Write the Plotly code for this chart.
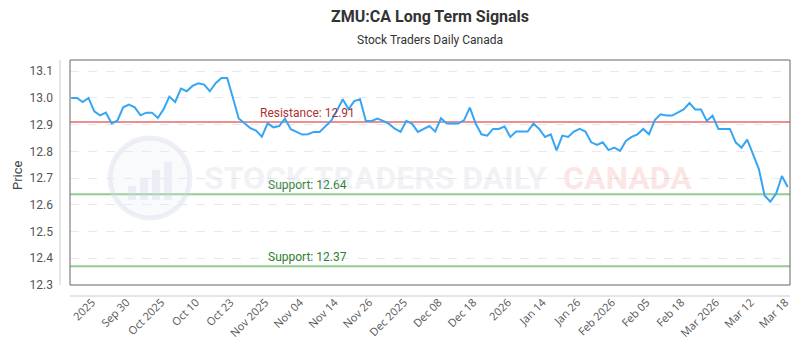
import plotly.graph_objects as go

title = "ZMU:CA Long Term Signals"
subtitle = "Stock Traders Daily Canada"

prices = [
    13.00, 13.00, 12.985, 13.00, 12.95, 12.935, 12.945, 12.905, 12.915, 12.965,
    12.975, 12.965, 12.935, 12.945, 12.945, 12.925, 12.958, 13.005, 12.985, 13.035,
    13.025, 13.045, 13.055, 13.05, 13.025, 13.055, 13.075, 13.075, 13.00, 12.923,
    12.905, 12.887, 12.878, 12.855, 12.905, 12.89, 12.895, 12.923, 12.883, 12.873,
    12.863, 12.864, 12.873, 12.873, 12.893, 12.915, 12.953, 12.995, 12.958, 12.988,
    12.995, 12.914, 12.914, 12.923, 12.914, 12.903, 12.885, 12.873, 12.914, 12.903,
    12.873, 12.883, 12.895, 12.874, 12.924, 12.904, 12.904, 12.904, 12.917, 12.964,
    12.904, 12.864, 12.859, 12.884, 12.884, 12.893, 12.854, 12.874, 12.874, 12.874,
    12.904, 12.884, 12.854, 12.864, 12.804, 12.859, 12.854, 12.874, 12.884, 12.874,
    12.834, 12.824, 12.834, 12.805, 12.814, 12.802, 12.839, 12.854, 12.864, 12.884,
    12.864, 12.917, 12.939, 12.934, 12.934, 12.947, 12.957, 12.981, 12.957, 12.957,
    12.914, 12.934, 12.884, 12.884, 12.884, 12.834, 12.814, 12.844, 12.793, 12.735,
    12.635, 12.612, 12.642, 12.708, 12.667,
]
x_index = list(range(len(prices)))

tick_labels = ["2025", "Sep 30", "Oct 2025", "Oct 10", "Oct 23", "Nov 2025", "Nov 04",
               "Nov 14", "Nov 26", "Dec 2025", "Dec 08", "Dec 18", "2026", "Jan 14",
               "Jan 26", "Feb 2026", "Feb 05", "Feb 18", "Mar 2026", "Mar 12", "Mar 18"]
tick_positions = [3.6 + 6 * k for k in range(len(tick_labels))]

resistance = 12.91
supports = [12.64, 12.37]

fig = go.Figure()
fig.add_trace(go.Scatter(x=x_index, y=prices, mode="lines",
                         line=dict(color="#36a6f4", width=2), hoverinfo="y"))

# level lines
fig.add_hline(y=resistance, line=dict(color="#ec8f8f", width=2), layer="below")
for s in supports:
    fig.add_hline(y=s, line=dict(color="#92cc92", width=2), layer="below")

fig.add_annotation(x=0.33, xref="paper", y=resistance, yref="y",
                   xanchor="center", yanchor="bottom",
                   text=f"Resistance: {resistance:.2f}", showarrow=False,
                   font=dict(family="Roboto", size=12, color="#b03030"))
for s in supports:
    fig.add_annotation(x=0.33, xref="paper", y=s, yref="y",
                       xanchor="center", yanchor="bottom",
                       text=f"Support: {s:.2f}", showarrow=False,
                       font=dict(family="Roboto", size=12, color="#2e7d32"))

# watermark
def px(xp): return (xp - 70) / 720
def py(yp): return (285 - yp) / 225

fig.add_shape(type="circle", xref="paper", yref="paper",
              x0=px(110), x1=px(190), y0=py(218), y1=py(138),
              line=dict(color="rgba(205,212,228,0.35)", width=5),
              fillcolor="rgba(225,230,240,0.2)", layer="below")
for i, h in enumerate([14, 22, 30, 38]):
    fig.add_shape(type="rect", xref="paper", yref="paper",
                  x0=px(128 + i * 12), x1=px(136 + i * 12), y0=py(200), y1=py(200 - h),
                  line=dict(width=0), fillcolor="rgba(205,212,228,0.3)", layer="below")
fig.add_annotation(x=px(375), y=py(178), xref="paper", yref="paper",
                   xanchor="center", yanchor="middle",
                   text="<b>STOCK TRADERS DAILY</b>", showarrow=False,
                   font=dict(family="Roboto", size=32, color="rgba(200,206,218,0.27)"))
fig.add_annotation(x=px(627), y=py(178), xref="paper", yref="paper",
                   xanchor="center", yanchor="middle",
                   text="<b>CANADA</b>", showarrow=False,
                   font=dict(family="Roboto", size=32, color="rgba(240,120,120,0.2)"))

# titles
fig.add_annotation(x=0.5, y=py(16), xref="paper", yref="paper", xanchor="center",
                   yanchor="middle", text=f"<b>{title}</b>", showarrow=False,
                   font=dict(family="Roboto", size=16, color="#333333"))
fig.add_annotation(x=0.5, y=py(40), xref="paper", yref="paper", xanchor="center",
                   yanchor="middle", text=subtitle, showarrow=False,
                   font=dict(family="Roboto", size=12, color="#333333"))
fig.add_annotation(x=px(17), y=py(175), xref="paper", yref="paper", xanchor="center",
                   yanchor="middle", text="Price", textangle=-90, showarrow=False,
                   font=dict(family="Roboto", size=13, color="#444444"))

# frame and offset axis lines
fig.add_shape(type="rect", xref="paper", yref="paper", x0=0, x1=1, y0=0, y1=1,
              line=dict(color="#666666", width=1))
fig.add_shape(type="line", xref="paper", yref="paper", x0=px(60), x1=px(60), y0=0, y1=1,
              line=dict(color="#cccccc", width=1))
fig.add_shape(type="line", xref="paper", yref="paper", x0=0, x1=1, y0=py(296), y1=py(296),
              line=dict(color="#cccccc", width=1))

fig.update_layout(
    width=800, height=350,
    margin=dict(l=70, r=10, t=60, b=65),
    paper_bgcolor="white", plot_bgcolor="white",
    showlegend=False,
    xaxis=dict(range=[-0.2, len(prices) - 0.6], tickmode="array", tickvals=tick_positions,
               ticktext=tick_labels, tickangle=-45, showgrid=False, zeroline=False,
               showline=False, ticks="", ticklabelstandoff=8,
               tickfont=dict(family="Open Sans", size=11, color="#555555")),
    yaxis=dict(range=[12.3, 13.142], dtick=0.1, tick0=12.3, tickformat=".1f",
               showgrid=True, gridcolor="#e6e9ef", griddash="dash", gridwidth=1,
               zeroline=False, showline=False, ticks="", ticklabelstandoff=16,
               tickfont=dict(family="Roboto", size=12, color="#555555")),
)

fig.write_html("out.html")
